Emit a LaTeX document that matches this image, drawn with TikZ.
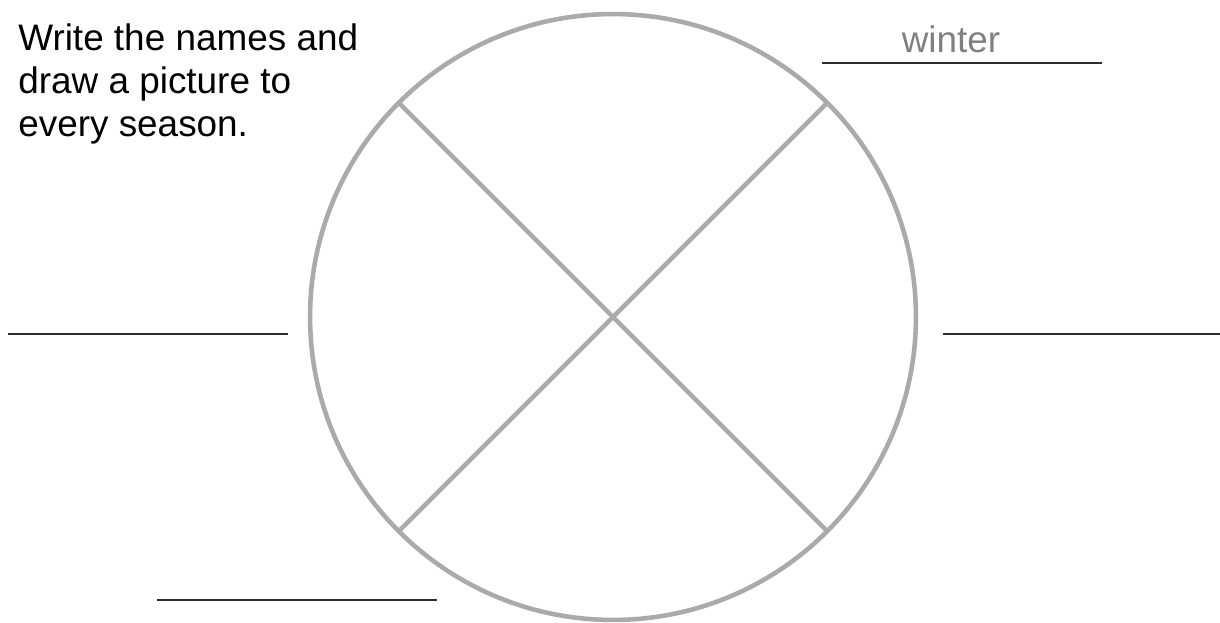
\documentclass[tikz,border=0pt]{standalone}
\usepackage{fontspec}
\setmainfont{Liberation Sans}
\usetikzlibrary{positioning}
\definecolor{ringgray}{RGB}{170,170,173}
\definecolor{hintgray}{RGB}{128,128,131}
\definecolor{lineblack}{RGB}{45,45,45}
\tikzset{
  ring/.style={circle,draw=ringgray,line width=2.6pt,inner sep=0pt,outer sep=0pt,minimum size=12.12cm},
  spoke/.style={draw=ringgray,line width=2.6pt},
  answer/.style={draw=lineblack,line width=1.1pt},
  task/.style={align=left,inner sep=0pt,font=\fontsize{21}{24.7}\selectfont},
  hint/.style={inner sep=0pt,text=hintgray,font=\fontsize{21}{24.7}\selectfont}
}

\begin{document}
\begin{tikzpicture}[x=0.02cm,y=-0.02cm]
\useasboundingbox (0,0) rectangle (1220,622);
% the wheel of seasons
\node[ring] (wheel) at (613,317) {};
\draw[spoke] (wheel.135) -- (wheel.315);
\draw[spoke] (wheel.45) -- (wheel.225);
% task text
\node[task,anchor=north west] (task) at (18,23) {Write the names and\\draw a picture to\\every season.};
% answer lines
\coordinate (tr1) at (822,63);
\coordinate (tr2) at (1102,63);
\coordinate (ml1) at (8,334);
\coordinate (ml2) at (288,334);
\coordinate (mr1) at (943,334);
\coordinate (mr2) at (1220,334);
\coordinate (bl1) at (157,600);
\coordinate (bl2) at (437,600);
\draw[answer] (tr1) -- (tr2);
\draw[answer] (ml1) -- (ml2);
\draw[answer] (mr1) -- (mr2);
\draw[answer] (bl1) -- (bl2);
\node[hint,anchor=base] (winter) at (951,52) {winter};
\end{tikzpicture}
\end{document}
